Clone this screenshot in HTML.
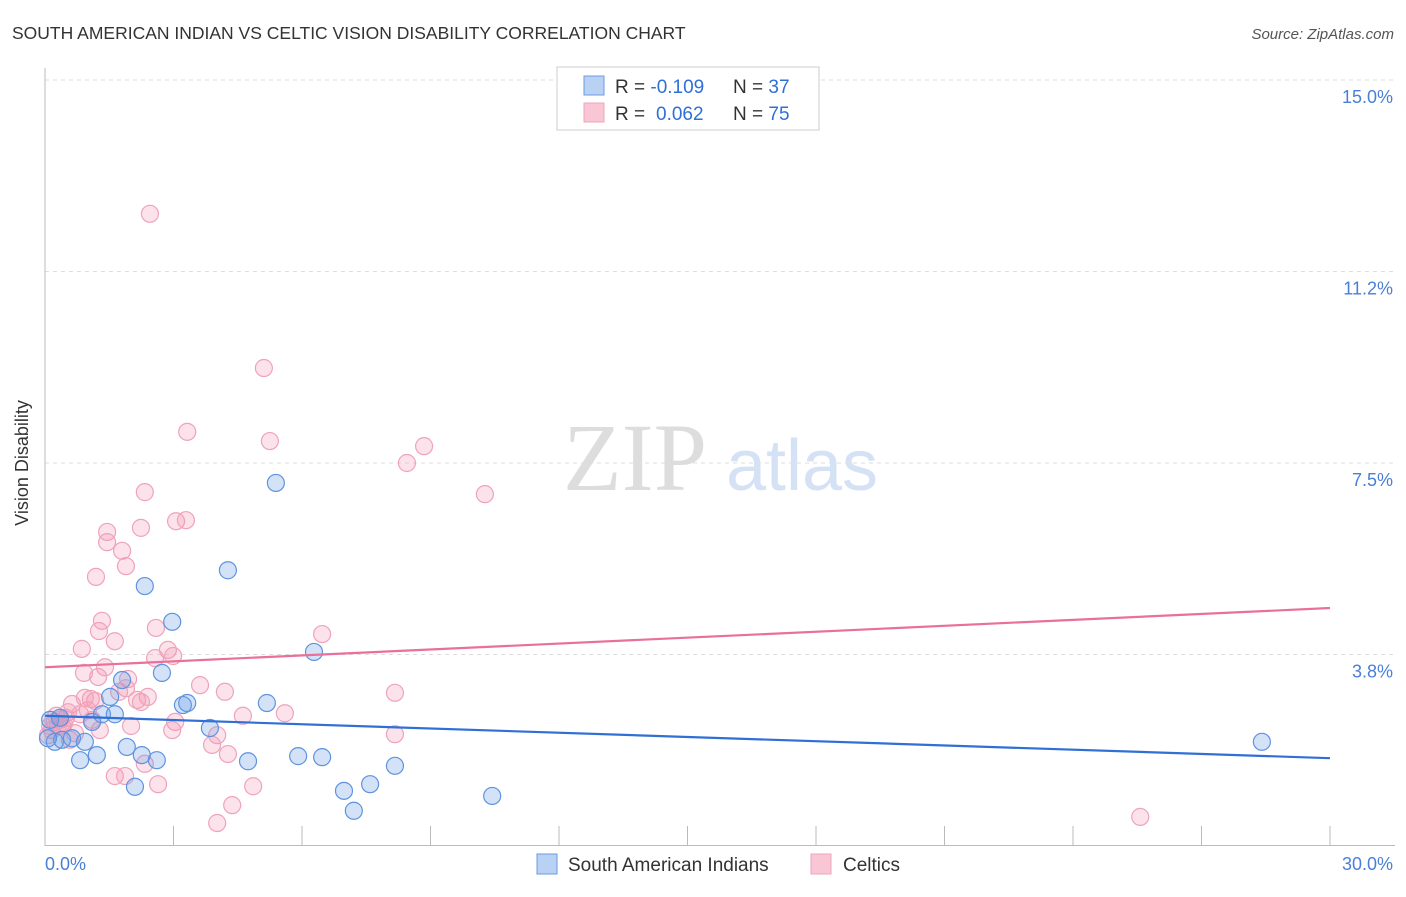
<!DOCTYPE html>
<html><head><meta charset="utf-8"><style>
body{margin:0;background:#fff;font-family:"Liberation Sans",sans-serif;}
</style></head><body>
<svg width="1406" height="892" xmlns="http://www.w3.org/2000/svg">
<text x="12" y="39" font-size="17.5" fill="#333">SOUTH AMERICAN INDIAN VS CELTIC VISION DISABILITY CORRELATION CHART</text>
<text x="1394" y="39" font-size="15" fill="#555" font-style="italic" text-anchor="end">Source: ZipAtlas.com</text>
<g id="grid"></g>
<line x1="45" y1="68" x2="45" y2="846" stroke="#bbb"/>
<line x1="45" y1="845.5" x2="1395" y2="845.5" stroke="#bbb"/>
<g id="ticks"></g>
<text x="21" y="456" font-size="18" fill="#333" text-anchor="middle" transform="rotate(-90 28 456)">Vision Disability</text>
<g>
<text x="635" y="490" font-size="96" fill="#ddd" font-family="Liberation Serif,serif" text-anchor="middle">ZIP</text>
<text x="802" y="490" font-size="72" fill="#d5e2f5" text-anchor="middle">atlas</text>
</g>
<g id="pts"></g>
<g id="trend"></g>
<g id="labels"></g>
<g>
<rect x="557" y="67" width="262" height="63" fill="#fff" stroke="#ccc"/>
<rect x="584" y="76" width="20" height="19" fill="#b9d2f3" stroke="#6a9be0"/>
<rect x="584" y="103" width="20" height="19" fill="#f9c6d5" stroke="#eea4bb"/>
<text x="615" y="93" font-size="19" fill="#333">R = <tspan fill="#2f6fd6">-0.109</tspan><tspan x="733">N = </tspan><tspan fill="#2f6fd6">37</tspan></text>
<text x="615" y="120" font-size="19" fill="#333">R = <tspan x="656" fill="#2f6fd6">0.062</tspan><tspan x="733">N = </tspan><tspan fill="#2f6fd6">75</tspan></text>
</g>
<g>
<rect x="537" y="854" width="20" height="20" fill="#b9d2f3" stroke="#6a9be0"/>
<text x="568" y="871" font-size="19" fill="#333">South American Indians</text>
<rect x="811" y="854" width="20" height="20" fill="#f9c6d5" stroke="#eea4bb"/>
<text x="843" y="871" font-size="19" fill="#333">Celtics</text>
</g>
</svg>
<script>
const yTicks=[15.0,11.25,7.5,3.75];
const yTickLabels=["15.0%","11.2%","7.5%","3.8%"];
const xTickVals=[3,6,9,12,15,18,21,24,27,30];
const xLabels=["0.0%","30.0%"];
const blueX=[0.12,0.23,0.40,0.63,0.82,0.93,1.10,1.21,1.33,1.52,1.63,1.80,1.91,2.10,2.26,2.33,2.61,2.73,2.97,3.22,3.32,3.85,4.27,4.74,5.18,5.39,5.91,6.28,6.47,6.98,7.21,7.59,8.17,10.44,28.41,0.35,0.07];
const blueY=[2.47,2.04,2.08,2.11,1.68,2.04,2.43,1.78,2.58,2.92,2.58,3.25,1.94,1.16,1.78,5.09,1.68,3.39,4.39,2.76,2.80,2.31,5.40,1.66,2.80,7.11,1.76,3.80,1.74,1.08,0.69,1.21,1.57,0.98,2.04,2.51,2.11];
const pinkX=[2.45,5.11,3.32,5.25,8.85,8.45,10.27,2.33,1.45,1.45,2.24,3.06,3.29,1.80,1.89,1.19,1.33,1.26,1.63,2.59,6.47,0.86,2.87,2.99,2.57,1.40,0.91,1.24,1.94,1.89,1.07,1.17,1.73,2.40,2.15,2.24,3.62,4.20,8.17,5.60,4.62,0.63,0.54,0.82,0.35,0.23,0.16,0.40,0.70,2.01,3.04,2.97,4.02,3.90,4.27,2.33,1.63,1.87,2.64,4.86,4.37,4.02,8.17,25.57,0.07,0.30,0.49,1.00,0.58,0.44,1.28,0.12,0.93,1.10,0.26];
const pinkY=[12.38,9.36,8.11,7.93,7.83,7.50,6.89,6.93,6.15,5.95,6.23,6.36,6.38,5.78,5.48,5.27,4.41,4.21,4.01,4.27,4.15,3.86,3.84,3.72,3.68,3.50,3.39,3.31,3.27,3.09,2.88,2.84,3.02,2.92,2.86,2.82,3.15,3.02,3.00,2.60,2.55,2.78,2.62,2.58,2.47,2.43,2.27,2.35,2.21,2.35,2.43,2.27,2.17,1.98,1.80,1.61,1.37,1.37,1.21,1.17,0.80,0.45,2.19,0.57,2.17,2.35,2.51,2.66,2.08,2.39,2.27,2.35,2.90,2.47,2.55];
const blueTrend=[2.55,1.72];
const pinkTrend=[3.50,4.66];
const NS="http://www.w3.org/2000/svg";
function sx(v){return 45+v/30*1285;}
function sy(v){return 846-v/15*766;}
function mk(t,a,p){const e=document.createElementNS(NS,t);for(const k in a)e.setAttribute(k,a[k]);p.appendChild(e);return e;}
const grid=document.getElementById('grid'),labels=document.getElementById('labels'),ticks=document.getElementById('ticks');
yTicks.forEach((v,i)=>{
 const l=mk('line',{x1:45,x2:1395,y1:sy(v),y2:sy(v),stroke:'#ddd','stroke-dasharray':'4 4'},grid);
 
 
 const t=mk('text',{x:1393,y:sy(v)+23,'font-size':18,fill:'#4a7fd8','text-anchor':'end'},labels);
 t.textContent=yTickLabels[i];
 
 
});
xTickVals.forEach(v=>{
 const l=mk('line',{x1:sx(v),x2:sx(v),y1:826,y2:846,stroke:'#bbb'},ticks);
 
 
});
const xl0=mk('text',{x:45,y:870,'font-size':18,fill:'#4a7fd8'},labels);xl0.textContent=xLabels[0];


const xl1=mk('text',{x:1393,y:870,'font-size':18,fill:'#4a7fd8','text-anchor':'end'},labels);xl1.textContent=xLabels[1];


const pts=document.getElementById('pts');
pinkX.forEach((x,i)=>{
 const c=mk('circle',{cx:sx(x),cy:sy(pinkY[i]),r:8.5,fill:'rgba(244,150,180,0.28)',stroke:'#efa3bb','stroke-width':1.2},pts);
 
 
});
blueX.forEach((x,i)=>{
 const c=mk('circle',{cx:sx(x),cy:sy(blueY[i]),r:8.5,fill:'rgba(110,160,230,0.3)',stroke:'#5f93e0','stroke-width':1.2},pts);
 
 
});
const tr=document.getElementById('trend');
const bl=mk('line',{x1:sx(0),x2:sx(30),y1:sy(blueTrend[0]),y2:sy(blueTrend[1]),stroke:'#2f6fd6','stroke-width':2.2},tr);


const pl=mk('line',{x1:sx(0),x2:sx(30),y1:sy(pinkTrend[0]),y2:sy(pinkTrend[1]),stroke:'#e8709a','stroke-width':2.2},tr);


</script>
</body></html>
